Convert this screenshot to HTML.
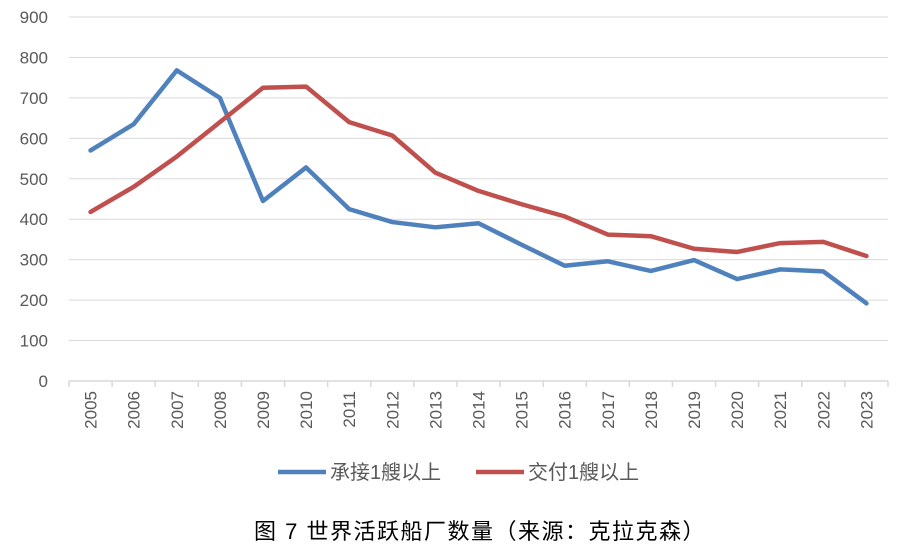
<!DOCTYPE html>
<html><head><meta charset="utf-8">
<style>
html,body{margin:0;padding:0;background:#fff;}
body{width:905px;height:550px;overflow:hidden;font-family:"Liberation Sans","Noto Sans CJK SC",sans-serif;}
</style></head>
<body>
<svg id="chart" width="905" height="550" xmlns="http://www.w3.org/2000/svg" font-family="Liberation Sans, Noto Sans CJK SC, sans-serif"></svg>
<script>
const years=['2005','2006','2007','2008','2009','2010','2011','2012','2013','2014','2015','2016','2017','2018','2019','2020','2021','2022','2023'];
const orderSeries=[570,635,768,700,445,528,425,393,380,390,337,285,296,272,299,252,276,271,192];
const deliverySeries=[418,480,555,640,725,728,640,607,515,470,437,407,362,358,327,319,341,344,309];
const yTicks=[0,100,200,300,400,500,600,700,800,900];
const NS='http://www.w3.org/2000/svg';
const svg=document.getElementById('chart');
const x0=69,x1=888,yBase=381,yTop=17,yMax=900;
const cw=(x1-x0)/years.length;
function xs(i){return x0+cw*(i+0.5);}
function ys(v){return yBase-(yBase-yTop)*v/yMax;}
function mk(t,a){const e=document.createElementNS(NS,t);for(const k in a)e.setAttribute(k,a[k]);svg.appendChild(e);return e;}
yTicks.forEach(v=>{
  if(v>0){const g=mk('line',{x1:x0,x2:x1,y1:ys(v),y2:ys(v),stroke:'#d9d9d9','stroke-width':1});
  
  }
  const t=mk('text',{x:48,y:ys(v)+6,'text-anchor':'end','font-size':17,fill:'#595959'});
  t.textContent=v;
  
  
});
const ax=mk('line',{x1:x0,x2:x1,y1:yBase,y2:yBase,stroke:'#d9d9d9','stroke-width':1.5});


for(let i=0;i<=years.length;i++){
  const tk=mk('line',{x1:x0+cw*i,x2:x0+cw*i,y1:yBase,y2:yBase+6,stroke:'#d9d9d9','stroke-width':1.5});
  
  
}
years.forEach((y,i)=>{
  const t=mk('text',{x:0,y:0,'text-anchor':'end','font-size':17,fill:'#595959',transform:`translate(${xs(i)+6},${yBase+10}) rotate(-90)`});
  t.textContent=y;
  
  
});
function series(vals,color,name){
  const p=mk('polyline',{points:vals.map((v,i)=>xs(i)+','+ys(v)).join(' '),fill:'none',stroke:color,'stroke-width':4.5,'stroke-linejoin':'round','stroke-linecap':'round'});
  
  
}
series(orderSeries,'#4f81bd','orders-line');
series(deliverySeries,'#c0504d','deliveries-line');
function legend(x,color,label,name){
  const l=mk('line',{x1:x,x2:x+48,y1:472,y2:472,stroke:color,'stroke-width':4.5});
  
  
  const t=mk('text',{x:x+52,y:479,'font-size':20,fill:'#595959'});
  t.textContent=label;
  
  
}
legend(278,'#4f81bd','承接1艘以上','legend-orders');
legend(476,'#c0504d','交付1艘以上','legend-deliveries');
const cap=mk('text',{x:480,y:539,'text-anchor':'middle','font-size':22,'letter-spacing':1.5,fill:'#000'});
cap.textContent='图 7 世界活跃船厂数量（来源：克拉克森）';


</script>
</body></html>
